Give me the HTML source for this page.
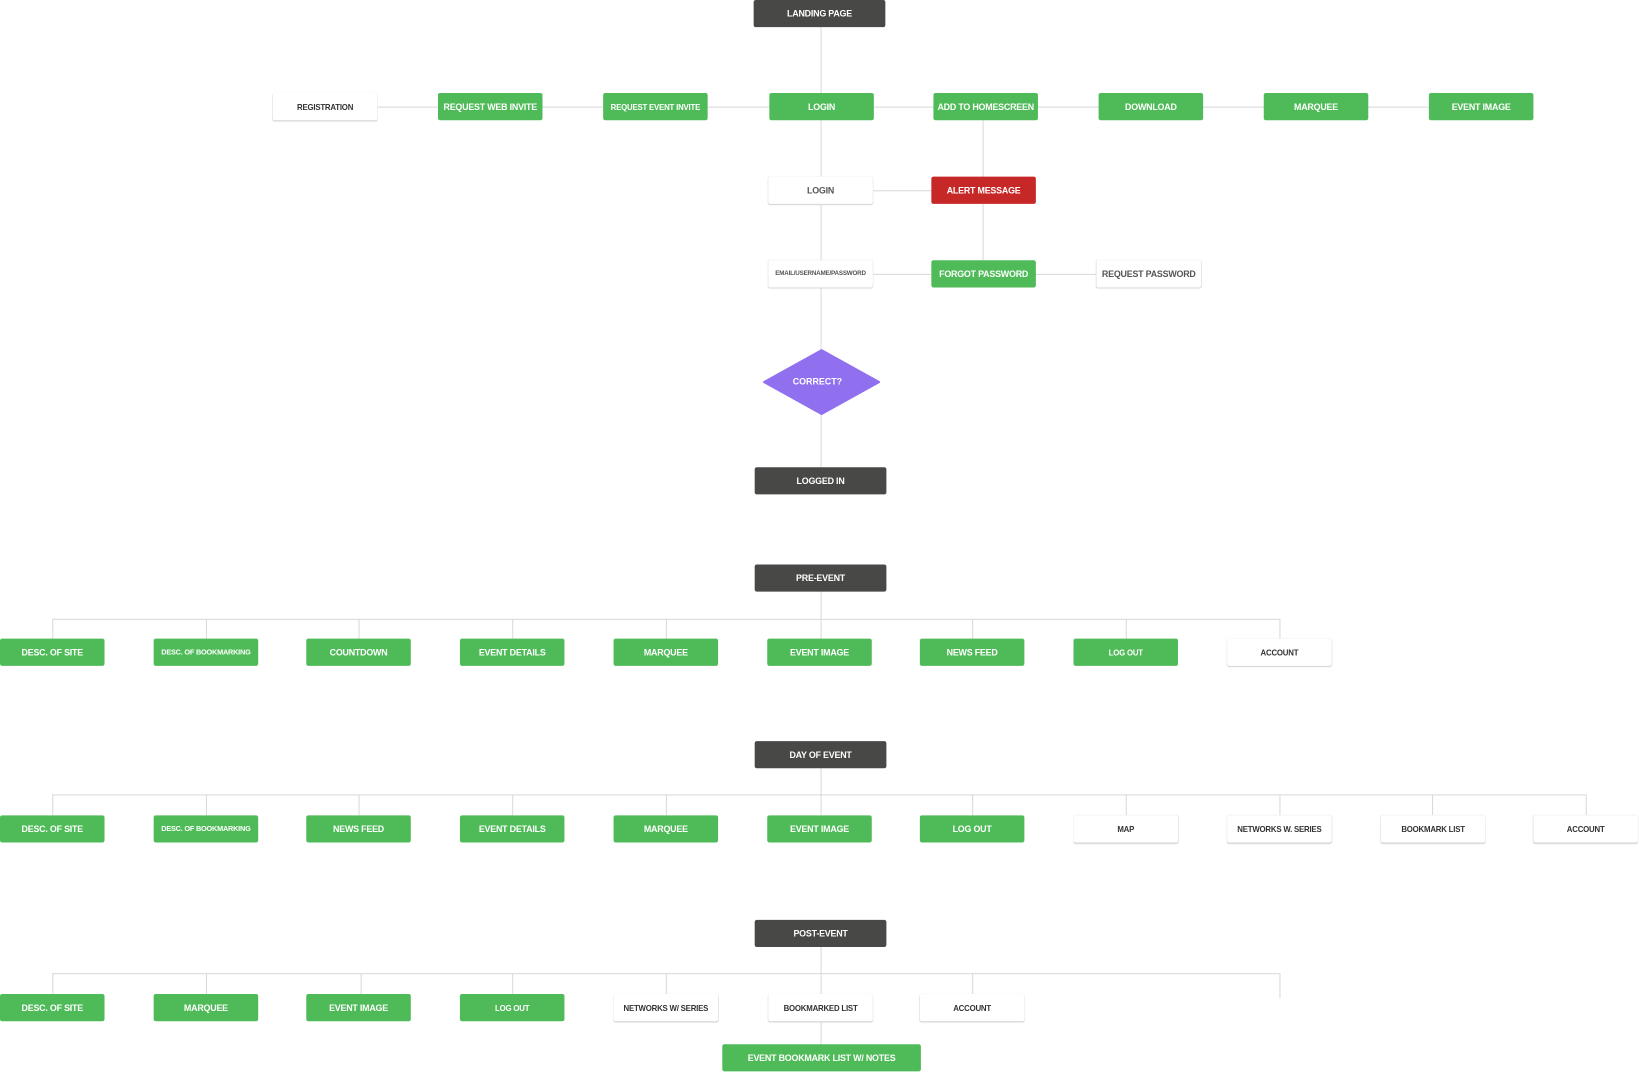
<!DOCTYPE html>
<html><head><meta charset="utf-8"><style>
html,body{margin:0;padding:0;background:#fff;width:1639px;height:1073px;overflow:hidden}
#w{position:absolute;left:0;top:0;width:1568px;height:1027px;transform:scale(1.04528);transform-origin:0 0}
.b{position:absolute;height:26px;width:100px;border-radius:2px;display:flex;align-items:center;justify-content:center;font-family:"Liberation Sans",sans-serif;font-weight:bold;font-size:8.5px;letter-spacing:-0.2px;white-space:nowrap;box-sizing:border-box}
.g{background:#4fbb58;color:#fff}
.d{background:#484846;color:#fff;width:126px}
.r{background:#c62828;color:#fff}
.wt{background:#fff;color:#333;box-shadow:0 1px 1px #d4d4d0,0 0 1px #e6e6e6;font-size:7.5px}
.h{position:absolute;height:1px;background:#d9d9d9}
.v{position:absolute;width:1px;background:#d9d9d9}
</style></head><body><div id="w">
<!-- lines -->
<div class="v" style="left:785px;top:26px;height:63px"></div>
<div class="h" style="left:361px;top:102px;width:1006px"></div>
<div class="v" style="left:785px;top:115px;height:332px"></div>
<div class="v" style="left:940px;top:115px;height:134px"></div>
<div class="h" style="left:835px;top:182px;width:56px"></div>
<div class="h" style="left:835px;top:262px;width:214px"></div>
<div class="v" style="left:785px;top:566px;height:45px"></div>
<div class="h" style="left:50px;top:592px;width:1174px"></div>
<div class="v" style="left:785px;top:735px;height:45px"></div>
<div class="h" style="left:50px;top:760px;width:1467px"></div>
<div class="v" style="left:785px;top:906px;height:93px"></div>
<div class="h" style="left:50px;top:931px;width:1174px"></div>
<div class="v" style="left:1224px;top:931px;height:24px"></div>

<div class="b d" style="left:721px;top:0">LANDING PAGE</div>
<div class="b wt" style="left:261px;top:89px">REGISTRATION</div>
<div class="b g" style="left:419px;top:89px">REQUEST WEB INVITE</div>
<div class="b g" style="left:577px;top:89px;font-size:7.5px">REQUEST EVENT INVITE</div>
<div class="b g" style="left:736px;top:89px">LOGIN</div>
<div class="b g" style="left:893px;top:89px">ADD TO HOMESCREEN</div>
<div class="b g" style="left:1051px;top:89px">DOWNLOAD</div>
<div class="b g" style="left:1209px;top:89px">MARQUEE</div>
<div class="b g" style="left:1367px;top:89px">EVENT IMAGE</div>

<div class="b wt" style="left:735px;top:169px;font-size:8.5px;color:#555">LOGIN</div>
<div class="b r" style="left:891px;top:169px">ALERT MESSAGE</div>
<div class="b wt" style="left:735px;top:249px;font-size:6px;color:#555">EMAIL/USERNAME/PASSWORD</div>
<div class="b g" style="left:891px;top:249px">FORGOT PASSWORD</div>
<div class="b wt" style="left:1049px;top:249px;font-size:8.5px;color:#555">REQUEST PASSWORD</div>

<svg style="position:absolute;left:730px;top:334px" width="112" height="63"><polygon points="56,1 111,31.5 56,62 1,31.5" fill="#9170f0" stroke="#9170f0" stroke-linejoin="round" stroke-width="2"/><text x="52" y="34" text-anchor="middle" fill="#fff" font-family="Liberation Sans,sans-serif" font-weight="bold" font-size="8.5">CORRECT?</text></svg>

<div class="b d" style="left:722px;top:447px">LOGGED IN</div>

<div class="b d" style="left:722px;top:540px">PRE-EVENT</div>
<div class="v" style="left:50px;top:592px;height:19px"></div><div class="v" style="left:197px;top:592px;height:19px"></div><div class="v" style="left:343px;top:592px;height:19px"></div><div class="v" style="left:490px;top:592px;height:19px"></div><div class="v" style="left:637px;top:592px;height:19px"></div><div class="v" style="left:930px;top:592px;height:19px"></div><div class="v" style="left:1077px;top:592px;height:19px"></div><div class="v" style="left:1224px;top:592px;height:19px"></div>
<div class="b g" style="left:0;top:611px">DESC. OF SITE</div>
<div class="b g" style="left:147px;top:611px;font-size:7px">DESC. OF BOOKMARKING</div>
<div class="b g" style="left:293px;top:611px">COUNTDOWN</div>
<div class="b g" style="left:440px;top:611px">EVENT DETAILS</div>
<div class="b g" style="left:587px;top:611px">MARQUEE</div>
<div class="b g" style="left:734px;top:611px">EVENT IMAGE</div>
<div class="b g" style="left:880px;top:611px">NEWS FEED</div>
<div class="b g" style="left:1027px;top:611px;font-size:7.5px">LOG OUT</div>
<div class="b wt" style="left:1174px;top:611px">ACCOUNT</div>

<div class="b d" style="left:722px;top:709px">DAY OF EVENT</div>
<div class="v" style="left:50px;top:760px;height:20px"></div><div class="v" style="left:197px;top:760px;height:20px"></div><div class="v" style="left:343px;top:760px;height:20px"></div><div class="v" style="left:490px;top:760px;height:20px"></div><div class="v" style="left:637px;top:760px;height:20px"></div><div class="v" style="left:930px;top:760px;height:20px"></div><div class="v" style="left:1077px;top:760px;height:20px"></div><div class="v" style="left:1224px;top:760px;height:20px"></div><div class="v" style="left:1370px;top:760px;height:20px"></div><div class="v" style="left:1517px;top:760px;height:20px"></div>
<div class="b g" style="left:0;top:780px">DESC. OF SITE</div>
<div class="b g" style="left:147px;top:780px;font-size:7px">DESC. OF BOOKMARKING</div>
<div class="b g" style="left:293px;top:780px">NEWS FEED</div>
<div class="b g" style="left:440px;top:780px">EVENT DETAILS</div>
<div class="b g" style="left:587px;top:780px">MARQUEE</div>
<div class="b g" style="left:734px;top:780px">EVENT IMAGE</div>
<div class="b g" style="left:880px;top:780px">LOG OUT</div>
<div class="b wt" style="left:1027px;top:780px">MAP</div>
<div class="b wt" style="left:1174px;top:780px">NETWORKS W. SERIES</div>
<div class="b wt" style="left:1321px;top:780px">BOOKMARK LIST</div>
<div class="b wt" style="left:1467px;top:780px">ACCOUNT</div>

<div class="b d" style="left:722px;top:880px">POST-EVENT</div>
<div class="v" style="left:50px;top:931px;height:20px"></div><div class="v" style="left:197px;top:931px;height:20px"></div><div class="v" style="left:345px;top:931px;height:20px"></div><div class="v" style="left:490px;top:931px;height:20px"></div><div class="v" style="left:637px;top:931px;height:20px"></div><div class="v" style="left:930px;top:931px;height:20px"></div>
<div class="b g" style="left:0;top:951px">DESC. OF SITE</div>
<div class="b g" style="left:147px;top:951px">MARQUEE</div>
<div class="b g" style="left:293px;top:951px">EVENT IMAGE</div>
<div class="b g" style="left:440px;top:951px;font-size:7.5px">LOG OUT</div>
<div class="b wt" style="left:587px;top:951px">NETWORKS W/ SERIES</div>
<div class="b wt" style="left:735px;top:951px">BOOKMARKED LIST</div>
<div class="b wt" style="left:880px;top:951px">ACCOUNT</div>
<div class="b g" style="left:691px;top:999px;width:190px">EVENT BOOKMARK LIST W/ NOTES</div>
</div></body></html>
